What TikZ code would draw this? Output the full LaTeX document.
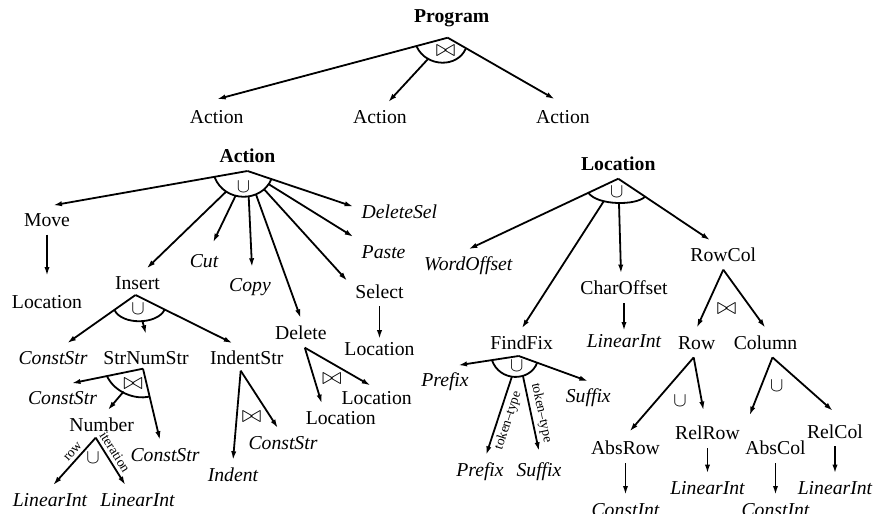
\documentclass[tikz,border=0pt]{standalone}
\usepackage{fontspec}
\setmainfont{Liberation Serif}
\usetikzlibrary{calc}
\usetikzlibrary{arrows.meta}

\tikzset{
  lbl/.style = {inner sep=3.6pt, text height=6.6pt, text depth=0pt, font=\fontsize{9.85}{11}\selectfont},
  term/.style = {lbl, font=\fontsize{9.85}{11}\selectfont\itshape},
  head/.style = {lbl, font=\fontsize{9.85}{11}\selectfont\bfseries},
  unionop/.style = {inner sep=0pt, font=\fontsize{9.85}{11}\selectfont},
  joinop/.style = {inner sep=0pt, font=\fontsize{12}{13}\selectfont},
  arr/.style = {-{Latex[length=4.5pt,width=2.6pt]}},
  fromarc/.style = {arr, shorten <=#1},
  edgelbl/.style = {sloped, inner sep=1.6pt, font=\fontsize{6.8}{8}\selectfont},
}

\begin{document}
\begin{tikzpicture}[x=0.5pt, y=-0.5pt, line width=0.9pt]
\useasboundingbox (0,0) rectangle (875,514);

% Program
\node[head] (program) at (451.7,16) {Program};
\node[lbl] (act1) at (216.7,117) {Action};
\node[lbl] (act2) at (380,117) {Action};
\node[lbl] (act3) at (563,117) {Action};
\coordinate (program-j) at ([xshift=-2pt,yshift=-3.5pt]program.south);

\draw[arr] (program-j) -- ([yshift=1.5pt]act1.north);
\draw[fromarc=14pt] (program-j) -- ([xshift=4pt]act2.north);
\draw[arr] (program-j) -- ([xshift=-4pt,yshift=1.5pt]act3.north);
\draw ($(program-j)+(-31,9)$) .. controls ($(program-j)+(-21,30)$) and ($(program-j)+(10,30)$) .. ($(program-j)+(18,11)$);
\node[joinop] (program-op) at ($(program-j)+(-2,13)$) {$\bowtie$};

% Action
\node[head] (action) at (247.5,156.3) {Action};
\coordinate (action-j) at (action.south);
\node[lbl] (move) at (47,220) {Move};
\node[lbl] (move-loc) at (47,301.7) {Location};
\node[lbl] (insert) at (137.5,283.3) {Insert};
\node[term] (cut) at (204,261.3) {Cut};
\node[term] (copy) at (250,285) {Copy};
\node[lbl] (delete) at (300.8,333) {Delete};
\node[lbl] (select) at (379.5,291.7) {Select};
\node[term] (paste) at (383.6,251.7) {Paste};
\node[term] (deletesel) at (399.4,211.7) {DeleteSel};
\node[lbl] (select-loc) at (379.5,349.3) {Location};

\draw[arr] (action-j) -- ([xshift=3pt]move.north);
\draw[fromarc=14.8pt] (action-j) -- ([xshift=4.5pt]insert.north);
\draw[fromarc=13.5pt] (action-j) -- ([xshift=4.5pt,yshift=2pt]cut.north);
\draw[fromarc=13pt] (action-j) -- ([xshift=1pt,yshift=1.5pt]copy.north);
\draw[fromarc=12.4pt] (action-j) -- (delete.north);
\draw[fromarc=12.3pt] (action-j) -- ([yshift=-2pt]select.north west);
\draw[fromarc=12.4pt] (action-j) -- (paste.north west);
\draw[arr] (action-j) -- ([yshift=2.5pt]deletesel.west);
\draw ($(action-j)+(-33,6)$) .. controls ($(action-j)+(-23,32)$) and ($(action-j)+(14,32)$) .. ($(action-j)+(24,8)$);
\node[unionop] (action-op) at ($(action-j)+(-4,16)$) {$\cup$};
\draw[arr] (move.south) -- ([yshift=5.5pt]move-loc.north);
\draw[arr] (select.south) -- ([yshift=-2.3pt]select-loc.north);

% Insert
\coordinate (insert-j) at ([xshift=-1pt,yshift=1.5pt]insert.south);
\node[term] (insert-str) at (53,358) {ConstStr};
\node[lbl] (strnum) at (146,358) {StrNumStr};
\node[lbl] (indentstr) at (246.7,358) {IndentStr};
\draw[arr] (insert-j) -- ([xshift=7pt]insert-str.north);
\draw[fromarc=13.5pt] (insert-j) -- ([yshift=4.5pt]strnum.north);
\draw[arr] (insert-j) -- ([xshift=-7pt]indentstr.north);
\draw ($(insert-j)+(-21,15)$) .. controls ($(insert-j)+(-14,30)$) and ($(insert-j)+(21,30)$) .. ($(insert-j)+(29,15)$);
\node[unionop] (insert-op) at ($(insert-j)+(2.5,14)$) {$\cup$};

% StrNumStr
\coordinate (strnum-j) at ([xshift=-1.5pt,yshift=2pt]strnum.south);
\node[term] (strnum-pre) at (62.5,398) {ConstStr};
\node[lbl] (number) at (101.7,425) {Number};
\node[term] (strnum-post) at (165,455) {ConstStr};
\draw[arr] (strnum-j) -- ([xshift=4.5pt]strnum-pre.north);
\draw[fromarc=15pt] (strnum-j) -- ([xshift=3pt]number.north);
\draw[arr] (strnum-j) -- ([xshift=-2.5pt]strnum-post.north);
\draw ($(strnum-j)+(-36,7.5)$) .. controls ($(strnum-j)+(-28,24)$) and ($(strnum-j)+(-8,31)$) .. ($(strnum-j)+(6,28)$);
\node[joinop] (strnum-op) at ($(strnum-j)+(-10,15)$) {$\bowtie$};

% Number
\coordinate (number-j) at ([xshift=-3pt,yshift=1pt]number.south);
\node[term] (row-int) at (50,500) {LinearInt};
\node[term] (iter-int) at (137.5,500) {LinearInt};
\draw[arr] (number-j) -- node[edgelbl, above, pos=0.4] (row-lbl) {row} ([xshift=1.5pt]row-int.north);
\draw[arr] (number-j) -- node[edgelbl, above, pos=0.4] (iter-lbl) {iteration} ([xshift=-6pt]iter-int.north);
\node[unionop] (number-op) at ($(number-j)+(-2.7,20)$) {$\cup$};

% IndentStr
\coordinate (indentstr-j) at ([xshift=-3pt,yshift=1pt]indentstr.south);
\node[term] (indent) at (233,475) {Indent};
\node[term] (indent-str) at (283,443) {ConstStr};
\draw[arr] (indentstr-j) -- (indent.north);
\draw[arr] (indentstr-j) -- ([xshift=-2.5pt]indent-str.north);
\node[joinop] (indentstr-op) at ($(indentstr-j)+(11,46.7)$) {$\bowtie$};

% Delete
\coordinate (delete-j) at ([xshift=2pt]delete.south);
\node[lbl] (delete-loc1) at (340.8,418.3) {Location};
\node[lbl] (delete-loc2) at (376.7,398.3) {Location};
\draw[arr] (delete-j) -- ([xshift=-9.5pt]delete-loc1.north);
\draw[arr] (delete-j) -- ([xshift=-3pt,yshift=-1pt]delete-loc2.north);
\node[joinop] (delete-op) at ($(delete-j)+(27,31.3)$) {$\bowtie$};

% Location
\node[head] (location) at (618.3,164) {Location};
\coordinate (location-j) at (location.south);
\node[term] (wordoffset) at (468.3,264) {WordOffset};
\node[lbl] (findfix) at (521.7,343.3) {FindFix};
\node[lbl] (charoffset) at (624,288.3) {CharOffset};
\node[term] (charoffset-int) at (624,340.7) {LinearInt};
\node[lbl] (rowcol) at (723.3,255) {RowCol};
\draw[arr] (location-j) -- (wordoffset.north);
\draw[fromarc=13.5pt] (location-j) -- (findfix.north);
\draw[fromarc=12pt] (location-j) -- ([xshift=-1.5pt]charoffset.north);
\draw[arr] (location-j) -- ([xshift=-6.5pt]rowcol.north);
\draw[arr] (charoffset.south) -- ([yshift=-2.5pt]charoffset-int.north);
\draw ($(location-j)+(-30,14)$) .. controls ($(location-j)+(-21,27)$) and ($(location-j)+(18,27)$) .. ($(location-j)+(26.7,18)$);
\node[unionop] (location-op) at ($(location-j)+(-1.6,13.7)$) {$\cup$};

% FindFix
\coordinate (findfix-j) at ([xshift=-1.5pt,yshift=1pt]findfix.south);
\node[term] (findfix-pre) at (445,380) {Prefix};
\node[term] (findfix-suf) at (588.3,396) {Suffix};
\node[term] (token-pre) at (480,470) {Prefix};
\node[term] (token-suf) at (539,470) {Suffix};
\draw[arr] (findfix-j) -- ([xshift=6.5pt]findfix-pre.north);
\draw[fromarc=11pt] (findfix-j) -- node[edgelbl, below, pos=0.62] (tt-pre) {token--type} ([xshift=3pt]token-pre.north);
\draw[fromarc=10pt] (findfix-j) -- node[edgelbl, above, pos=0.62] (tt-suf) {token--type} ([yshift=2pt]token-suf.north);
\draw[arr] (findfix-j) -- (findfix-suf.north);
\draw ($(findfix-j)+(-26.7,4.3)$) .. controls ($(findfix-j)+(-19,26)$) and ($(findfix-j)+(11,26)$) .. ($(findfix-j)+(18.4,7)$);
\node[unionop] (findfix-op) at ($(findfix-j)+(-2,10)$) {$\cup$};

% RowCol
\coordinate (rowcol-j) at (rowcol.south);
\node[lbl] (row) at (696.7,342.7) {Row};
\node[lbl] (column) at (765.5,342.7) {Column};
\draw[arr] (rowcol-j) -- (row.north);
\draw[arr] (rowcol-j) -- (column.north);
\node[joinop] (rowcol-op) at ($(rowcol-j)+(3.4,39.3)$) {$\bowtie$};

% Row
\coordinate (row-j) at ([xshift=-1.5pt]row.south);
\node[lbl] (absrow) at (625.5,448.3) {AbsRow};
\node[lbl] (relrow) at (707.5,433.3) {RelRow};
\node[term] (absrow-int) at (625.5,509.7) {ConstInt};
\node[term] (relrow-int) at (707.5,488.3) {LinearInt};
\draw[arr] (row-j) -- ([xshift=2pt,yshift=1pt]absrow.north);
\draw[arr] (row-j) -- ([xshift=-2pt,yshift=4pt]relrow.north);
\draw[arr] (absrow.south) -- (absrow-int.north);
\draw[arr] (relrow.south) -- (relrow-int.north);
\node[unionop] (row-op) at ($(row-j)+(-13.7,43.3)$) {$\cup$};

% Column
\coordinate (column-j) at ([xshift=3.5pt]column.south);
\node[lbl] (abscol) at (775.5,448.3) {AbsCol};
\node[lbl] (relcol) at (835,431.7) {RelCol};
\node[term] (abscol-int) at (775.5,509.7) {ConstInt};
\node[term] (relcol-int) at (835,488.3) {LinearInt};
\draw[arr] (column-j) -- ([xshift=-13pt,yshift=9pt]abscol.north);
\draw[arr] (column-j) -- ([xshift=-1pt,yshift=3pt]relcol.north);
\draw[arr] (abscol.south) -- (abscol-int.north);
\draw[arr] (relcol.south) -- (relcol-int.north);
\node[unionop] (column-op) at ($(column-j)+(4.2,28.3)$) {$\cup$};

\end{tikzpicture}
\end{document}
